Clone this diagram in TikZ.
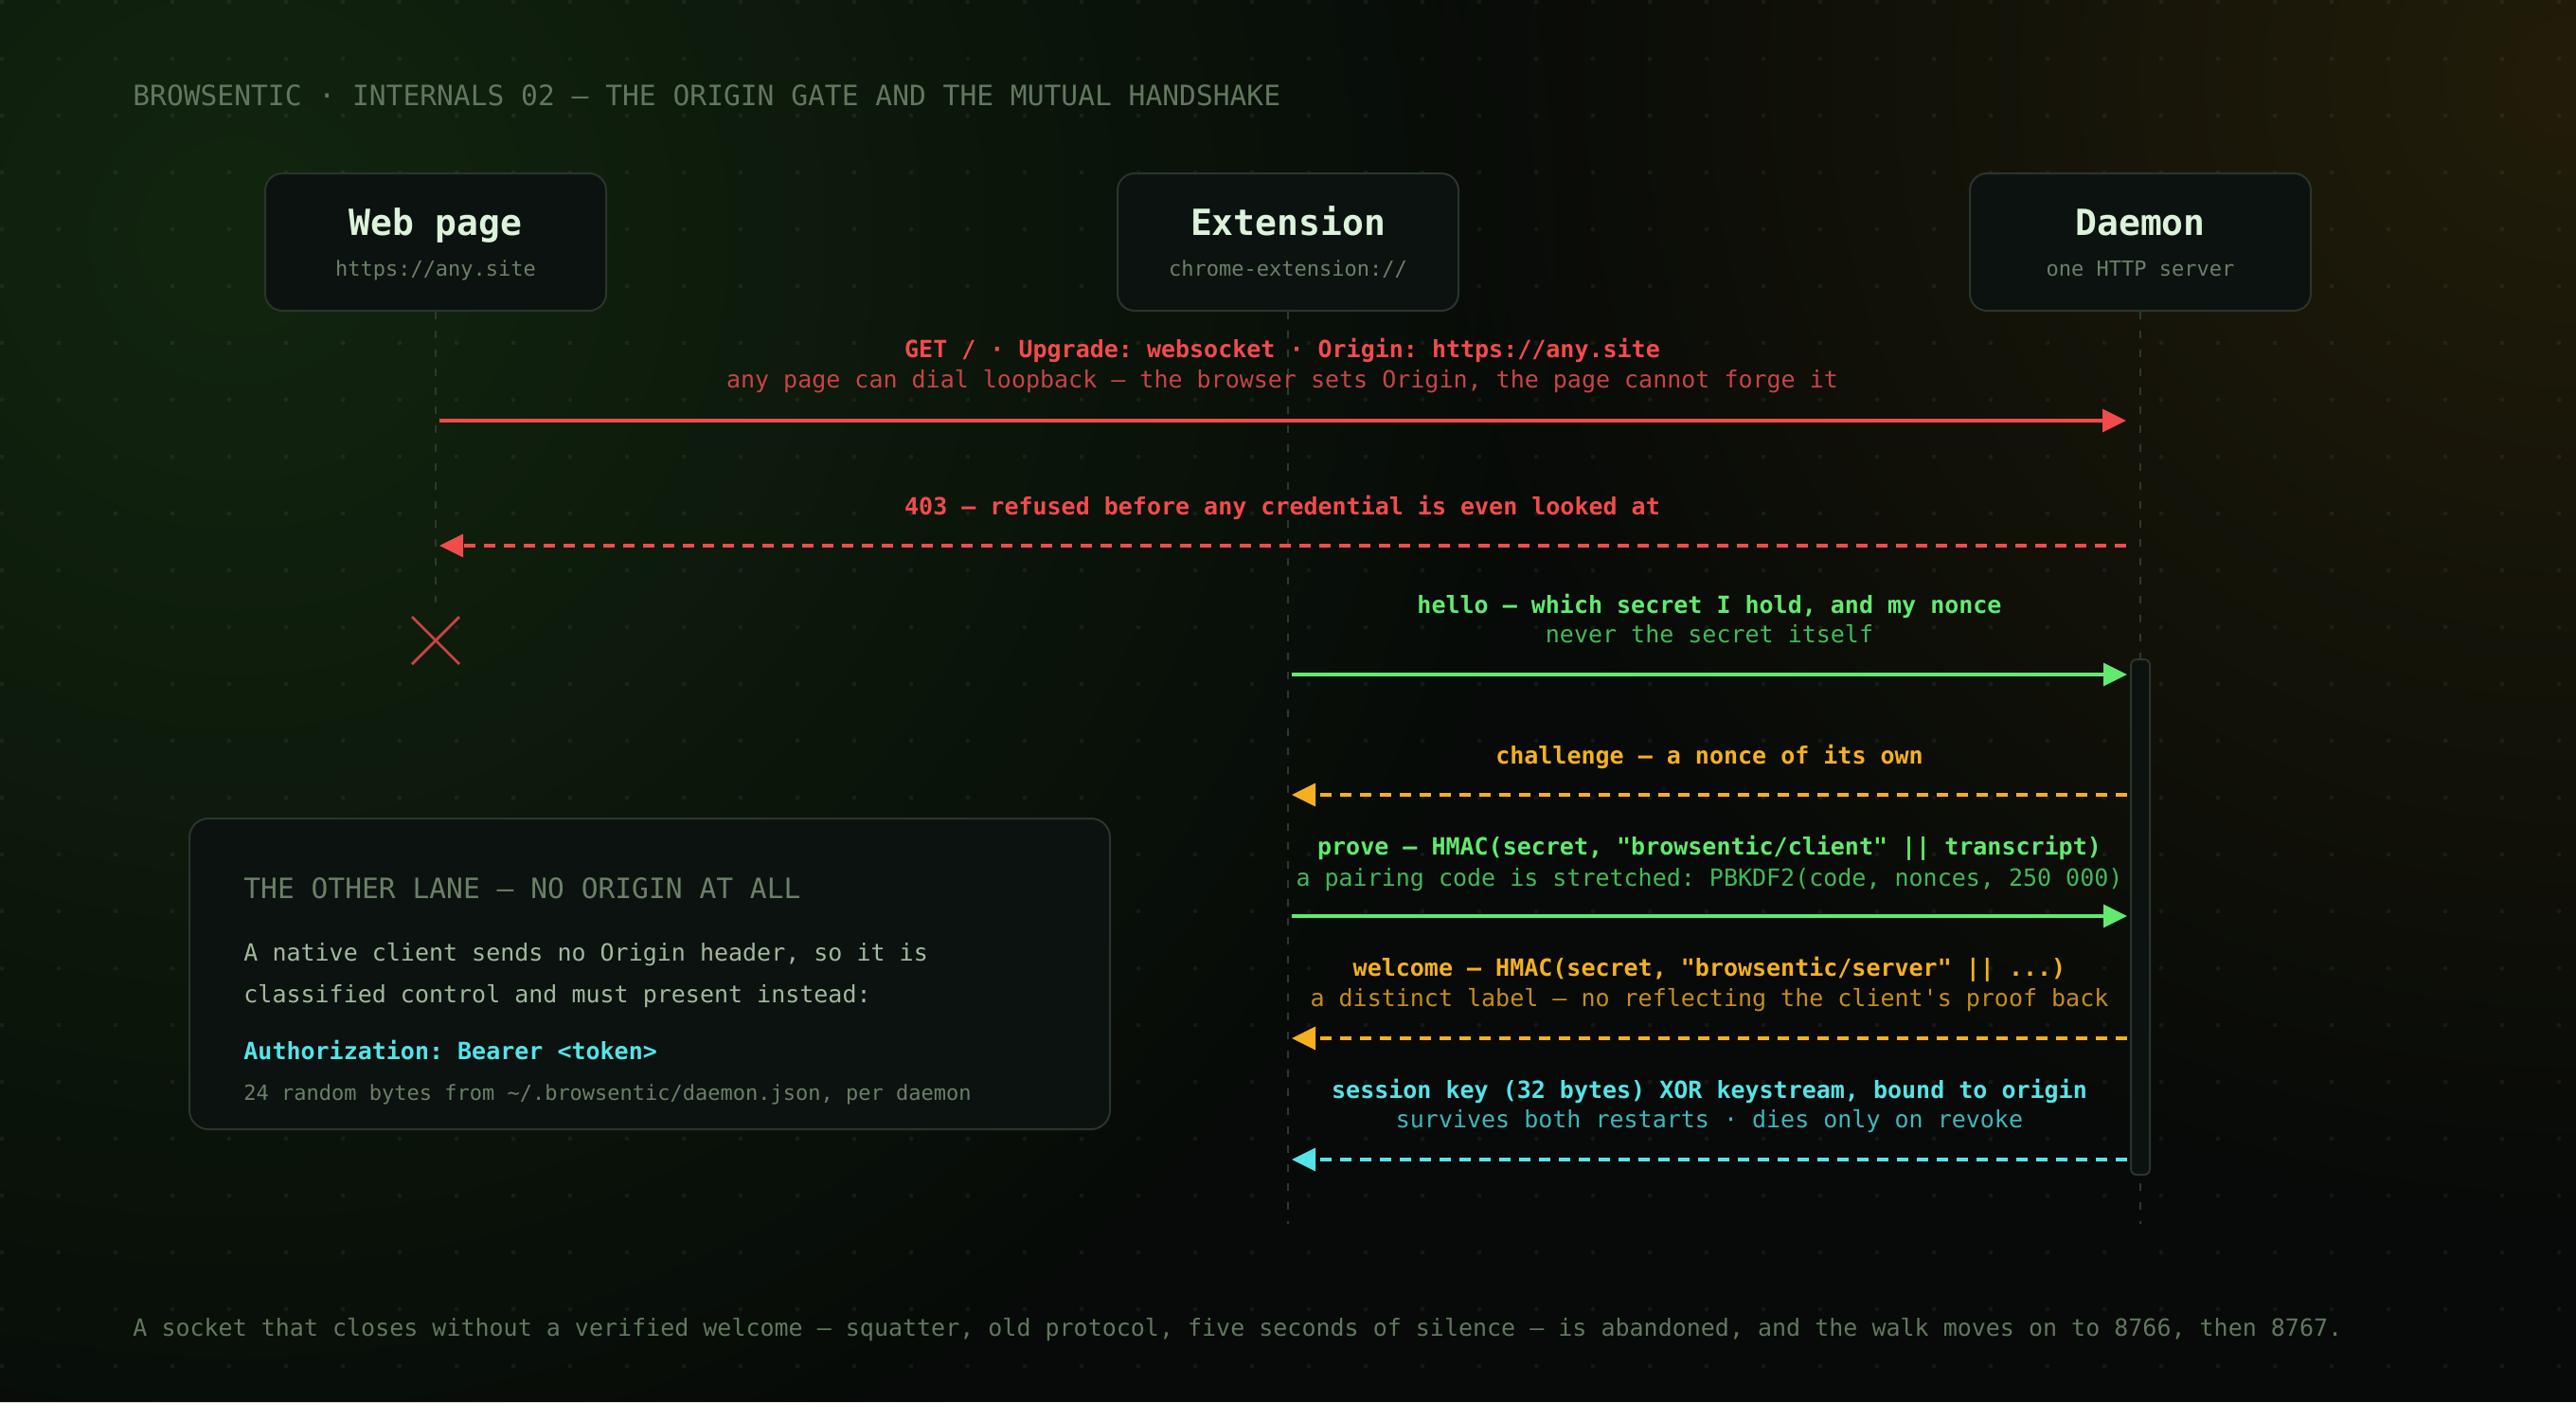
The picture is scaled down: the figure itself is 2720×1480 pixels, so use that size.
\documentclass[tikz,border=0pt]{standalone}
\usepackage{fontspec}
\setmonofont{DejaVu Sans Mono}
\renewcommand{\familydefault}{\ttdefault}
\usetikzlibrary{arrows.meta,fadings}
\definecolor{bgc}{HTML}{070A08}
\definecolor{glowg}{HTML}{12260F}
\definecolor{glowa}{HTML}{221D0A}
\definecolor{boxfill}{HTML}{0C1210}
\definecolor{boxline}{HTML}{2A352D}
\definecolor{lifec}{HTML}{2C3A30}
\definecolor{titlec}{HTML}{62775F}
\definecolor{headc}{HTML}{DCF2DA}
\definecolor{subc}{HTML}{6B8068}
\definecolor{bodyc}{HTML}{A0B89C}
\definecolor{redb}{HTML}{F24B4B}
\definecolor{redd}{HTML}{C84444}
\definecolor{grnb}{HTML}{62EA6E}
\definecolor{grnd}{HTML}{44B856}
\definecolor{orgb}{HTML}{F5B021}
\definecolor{orgd}{HTML}{C58D1C}
\definecolor{cyab}{HTML}{56E3E8}
\definecolor{cyad}{HTML}{3FB6BC}
\tikzfading[name=glowfade, inner color=transparent!0, outer color=transparent!100]
\begin{document}
\begin{tikzpicture}[x=0.5pt,y=-0.5pt,
  actor/.style={draw=boxline, line width=1pt, fill=boxfill, rounded corners=9pt,
    minimum width=180pt, minimum height=72.5pt, inner sep=0pt},
  actname/.style={font=\fontsize{19pt}{22pt}\selectfont\bfseries, text=headc, inner sep=0pt,
    text height=14pt, text depth=4pt},
  actsub/.style={font=\fontsize{11pt}{13pt}\selectfont, text=subc, inner sep=0pt,
    text height=8pt, text depth=2.5pt},
  lifeline/.style={draw=lifec, line width=1pt, dash pattern=on 4pt off 6pt},
  msgb/.style={font=\fontsize{12.5pt}{15pt}\selectfont\bfseries, inner sep=0pt,
    text height=9.4pt, text depth=3.1pt},
  msgs/.style={font=\fontsize{12.5pt}{15pt}\selectfont, inner sep=0pt,
    text height=9.4pt, text depth=3.1pt},
  arr/.style={line width=1.6pt, -{Triangle[length=12.5pt,width=12pt]}},
  dsh/.style={arr, dash pattern=on 6pt off 4.5pt},
  plain/.style={font=\fontsize{12.5pt}{15pt}\selectfont, inner sep=0pt, anchor=west,
    text height=9.4pt, text depth=3.1pt},
  caps/.style={anchor=west, inner sep=0pt, font=\fontsize{14.8pt}{17pt}\selectfont,
    text height=10.6pt, text depth=0pt}
]
% background
\useasboundingbox (0,0) rectangle (2720,1480);
\fill[bgc] (0,0) rectangle (2720,1480);
\fill[glowg, path fading=glowfade] (250,250) circle (720pt);
\fill[glowa, path fading=glowfade] (2720,80) circle (620pt);
\foreach \i in {0,...,45}{
  \foreach \j in {0,...,24}{
    \fill[white, fill opacity=0.055] (60*\i+2,60*\j+2) circle (1.2pt);
  }
}

% title
\node[caps, text=titlec] (title) at (140,101)
  {BROWSENTIC · INTERNALS 02 — THE ORIGIN GATE AND THE MUTUAL HANDSHAKE};

% actors
\node[actor] (wp) at (460,255.5) {};
\node[actor] (ext) at (1360,255.5) {};
\node[actor] (dae) at (2260,255.5) {};
\node[actname] (wpn) at (460,238) {Web page};
\node[actsub] (wps) at (460,286) {https://any.site};
\node[actname] (extn) at (1360,238) {Extension};
\node[actsub] (exts) at (1360,286) {chrome-extension://};
\node[actname] (daen) at (2260,238) {Daemon};
\node[actsub] (daes) at (2260,286) {one HTTP server};

% lifeline ends
\coordinate (wpEnd) at (460,636);
\coordinate (extEnd) at (1360,1292);
\coordinate (daeEnd) at (2260,1292);
\draw[lifeline] (wp.south) -- (wpEnd);
\draw[lifeline] (ext.south) -- (extEnd);
\draw[lifeline] (dae.south) -- (daeEnd);

% activation bar
\draw[draw=boxline, fill=boxfill, line width=1pt, rounded corners=3pt] (2250,696) rectangle (2270,1240);

% termination mark
\coordinate (xa) at (435,651);
\coordinate (xb) at (485,701);
\coordinate (xc) at (435,701);
\coordinate (xd) at (485,651);
\draw[redd, line width=1.4pt] (xa) -- (xb) (xc) -- (xd);

% message endpoints
\coordinate (w1) at (464,444);   \coordinate (d1) at (2245,444);
\coordinate (w2) at (464,576);   \coordinate (d2) at (2245,576);
\coordinate (e3) at (1364,712);  \coordinate (d3) at (2246,712);
\coordinate (e4) at (1364,839);  \coordinate (d4) at (2246,839);
\coordinate (e5) at (1364,967);  \coordinate (d5) at (2246,967);
\coordinate (e6) at (1364,1096); \coordinate (d6) at (2246,1096);
\coordinate (e7) at (1364,1224); \coordinate (d7) at (2246,1224);

% 1 GET
\node[msgb, text=redb] (m1a) at (1354,371) {GET / · Upgrade: websocket · Origin: https://any.site};
\node[msgs, text=redd] (m1b) at (1354,403) {any page can dial loopback — the browser sets Origin, the page cannot forge it};
\draw[arr, redb] (w1) -- (d1);

% 2 403
\node[msgb, text=redb] (m2a) at (1354,537) {403 — refused before any credential is even looked at};
\draw[dsh, redb] (d2) -- (w2);

% 3 hello
\node[msgb, text=grnb] (m3a) at (1805,641) {hello — which secret I hold, and my nonce};
\node[msgs, text=grnd] (m3b) at (1805,672) {never the secret itself};
\draw[arr, grnb] (e3) -- (d3);

% 4 challenge
\node[msgb, text=orgb] (m4a) at (1805,800) {challenge — a nonce of its own};
\draw[dsh, orgb] (d4) -- (e4);

% 5 prove
\node[msgb, text=grnb] (m5a) at (1805,896) {prove — HMAC(secret, "browsentic/client" || transcript)};
\node[msgs, text=grnd] (m5b) at (1805,929) {a pairing code is stretched: PBKDF2(code, nonces, 250 000)};
\draw[arr, grnb] (e5) -- (d5);

% 6 welcome
\node[msgb, text=orgb] (m6a) at (1805,1024) {welcome — HMAC(secret, "browsentic/server" || ...)};
\node[msgs, text=orgd] (m6b) at (1805,1056) {a distinct label — no reflecting the client's proof back};
\draw[dsh, orgb] (d6) -- (e6);

% 7 session key
\node[msgb, text=cyab] (m7a) at (1805,1153) {session key (32 bytes) XOR keystream, bound to origin};
\node[msgs, text=cyad] (m7b) at (1805,1184) {survives both restarts · dies only on revoke};
\draw[dsh, cyab] (d7) -- (e7);

% other lane box
\node[draw=boxline, fill=boxfill, line width=1pt, rounded corners=10pt,
  minimum width=486pt, minimum height=164pt, inner sep=0pt] (lane) at (686,1028) {};
\node[caps, text=subc] (laneh) at (257,938) {THE OTHER LANE — NO ORIGIN AT ALL};
\node[plain, text=bodyc] (lane1) at (257,1008) {A native client sends no Origin header, so it is};
\node[plain, text=bodyc] (lane2) at (257,1052) {classified control and must present instead:};
\node[plain, text=cyab, font=\fontsize{12.5pt}{15pt}\selectfont\bfseries] (lane3) at (257,1112) {Authorization: Bearer <token>};
\node[anchor=west, inner sep=0pt, text=subc, font=\fontsize{11pt}{13pt}\selectfont,
  text height=8pt, text depth=2.5pt] (lane4) at (257,1156) {24 random bytes from \textasciitilde/.browsentic/daemon.json, per daemon};

% footer
\node[plain, text=titlec] (foot) at (140,1404) {A socket that closes without a verified welcome — squatter, old protocol, five seconds of silence — is abandoned, and the walk moves on to 8766, then 8767.};
\end{tikzpicture}
\end{document}
